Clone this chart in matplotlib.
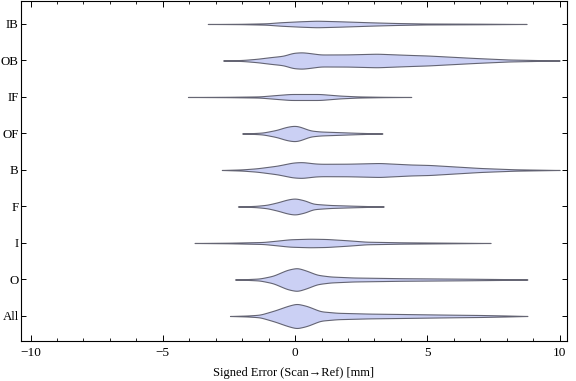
import numpy as np
import matplotlib
matplotlib.use("Agg")
import matplotlib.pyplot as plt
from matplotlib.ticker import MultipleLocator

categories = ["All", "O", "I", "F", "B", "OF", "IF", "OB", "IB"]

# violin profiles: x positions (mm) and half-widths (relative density units)
all_x = [-2.46, -1.8, -1.33, -0.76, -0.3, 0.05, 0.45, 0.95, 1.6, 2.8, 4.0, 4.85, 6.0, 7.0, 8.0, 8.78]
all_w = [0.0, 0.5, 1.3, 5.7, 10.0, 12.5, 10.0, 4.7, 3.2, 2.4, 2.0, 1.7, 1.3, 1.0, 0.5, 0.0]

o_x = [-2.27, -1.8, -1.33, -0.83, -0.3, 0.08, 0.45, 0.83, 1.33, 2.2, 4.0, 5.0, 6.5, 8.0, 8.78]
o_w = [0.0, 0.4, 1.0, 3.7, 9.7, 11.8, 8.7, 4.7, 3.0, 2.0, 1.3, 1.1, 0.8, 0.4, 0.0]

i_x = [-3.8, -2.5, -1.2, -0.7, -0.2, 0.57, 1.2, 2.0, 2.7, 4.0, 5.5, 7.39]
i_w = [0.0, 0.3, 1.0, 2.3, 3.7, 4.3, 4.0, 2.7, 1.3, 0.7, 0.4, 0.0]

f_x = [-2.16, -1.5, -1.06, -0.64, -0.3, 0.0, 0.38, 0.68, 1.33, 2.2, 3.35]
f_w = [0.0, 0.6, 1.7, 4.3, 7.0, 8.3, 6.0, 2.7, 1.5, 0.8, 0.0]

b_x = [-2.77, -2.0, -1.44, -0.68, -0.08, 0.27, 0.75, 1.0, 2.0, 3.2, 4.36, 5.1, 7.0, 8.3, 10.0]
b_w = [0.0, 0.6, 1.7, 4.3, 7.5, 8.0, 6.5, 6.2, 6.3, 7.0, 5.5, 5.0, 2.0, 0.7, 0.0]

of_x = [-2.0, -1.5, -1.2, -0.68, -0.38, -0.11, 0.08, 0.3, 0.57, 0.95, 1.7, 2.35, 3.3]
of_w = [0.0, 0.5, 1.0, 3.7, 6.3, 7.7, 7.7, 5.7, 3.0, 2.0, 1.3, 0.7, 0.0]

if_x = [-4.05, -2.5, -1.33, -0.68, -0.19, 0.95, 1.7, 2.35, 3.3, 4.39]
if_w = [0.0, 0.2, 0.6, 2.0, 3.0, 3.0, 1.4, 0.6, 0.2, 0.0]

ob_x = [-2.72, -2.0, -1.44, -0.95, -0.45, -0.08, 0.27, 0.68, 0.95, 2.0, 3.1, 4.4, 5.0, 6.8, 8.07, 10.0]
ob_w = [0.0, 0.5, 1.7, 3.3, 4.7, 7.7, 8.3, 7.0, 6.0, 6.1, 6.8, 5.5, 5.0, 2.5, 1.0, 0.0]

ib_x = [-3.3, -2.0, -1.06, -0.57, 0.19, 0.83, 1.7, 2.84, 3.8, 4.9, 7.0, 8.75]
ib_w = [0.0, 0.2, 0.7, 1.7, 2.7, 3.3, 2.7, 1.7, 1.0, 0.5, 0.3, 0.0]

profiles = [(all_x, all_w), (o_x, o_w), (i_x, i_w), (f_x, f_w), (b_x, b_w),
            (of_x, of_w), (if_x, if_w), (ob_x, ob_w), (ib_x, ib_w)]

xticks = [-10, -5, 0, 5, 10]
xlabel = "Signed Error (Scan\u2192Ref) [mm]"

plt.rcParams['font.family'] = ['Liberation Serif', 'DejaVu Serif']
plt.rcParams['axes.unicode_minus'] = True

fig = plt.figure(figsize=(5.76, 3.81), dpi=100)
ax = fig.add_axes([0.036, 0.105, 0.9485, 0.8924])

width_scale = 1 / 36.5  # half-width units -> axis units
fill_c = "#cbd0f4"
edge_c = (0.3, 0.3, 0.36, 0.85)

for k, (xs, ws) in enumerate(profiles):
    pos = k + 1
    xs = np.asarray(xs, float)
    ws = np.asarray(ws, float)
    grid = np.linspace(xs[0], xs[-1], 800)
    w = np.interp(grid, xs, ws)
    # light smoothing of the outline
    dx = grid[1] - grid[0]
    sig = 0.1
    kx = np.arange(-4 * sig, 4 * sig + dx, dx)
    ker = np.exp(-0.5 * (kx / sig) ** 2)
    ker /= ker.sum()
    w = np.convolve(np.pad(w, len(kx), mode='constant'), ker, mode='same')[len(kx):-len(kx)]
    w = np.clip(w, 0, None) * width_scale
    ax.fill_between(grid, pos - w, pos + w, facecolor=fill_c, edgecolor=edge_c,
                    linewidth=0.8, zorder=2)

ax.set_xlim(-10.37, 10.28)
ax.set_ylim(0.315, 9.63)
ax.set_xticks(xticks)
ax.set_xticklabels([("\u2212" + str(abs(t))) if t < 0 else str(t) for t in xticks])
ax.xaxis.set_minor_locator(MultipleLocator(1))
ax.set_yticks(range(1, len(categories) + 1))
ax.set_yticklabels(categories)

ax.tick_params(axis='x', which='major', direction='in', length=4.5, width=0.7,
               top=True, bottom=True, labelsize=9.5, pad=4)
ax.tick_params(axis='x', which='minor', direction='in', length=2.5, width=0.6,
               top=True, bottom=True)
ax.tick_params(axis='y', which='major', direction='in', length=3.5, width=0.7,
               left=True, right=True, labelsize=9.3, pad=1.5)
for s in ax.spines.values():
    s.set_linewidth(0.8)
    s.set_color("black")

ax.set_xlabel(xlabel, fontsize=9, labelpad=6)

fig.savefig("out.png", dpi=100)
